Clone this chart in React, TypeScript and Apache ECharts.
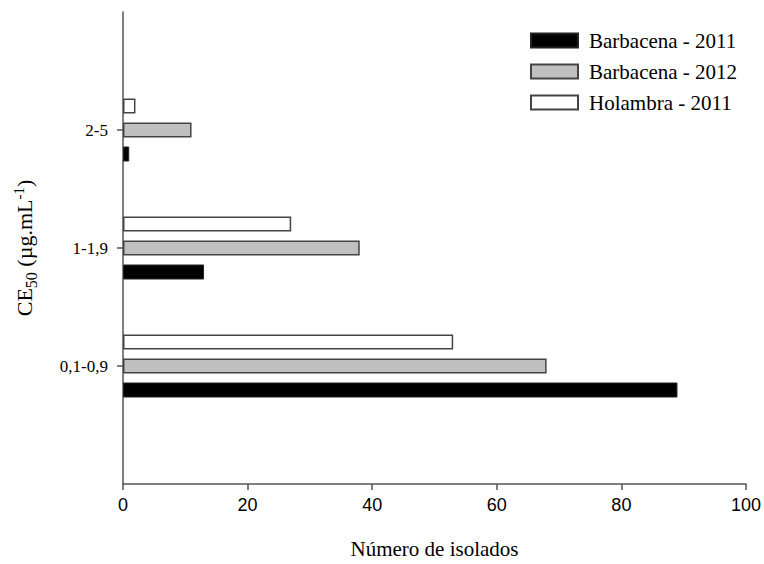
import React, { useEffect, useRef } from "react";
import * as echarts from "echarts";

// CE50 class intervals (bottom to top), padded with empty slots at both ends
const classes = ["", "0,1-0,9", "1-1,9", "2-5", ""];

// Number of isolates per CE50 class
const holambra2011 = [null, 53, 27, 2, null];
const barbacena2012 = [null, 68, 38, 11, null];
const barbacena2011 = [null, 89, 13, 1, null];

const xTicks = [0, 20, 40, 60, 80, 100];

const serif = "'Liberation Serif', 'Times New Roman', serif";
const narrow = "'Liberation Sans Narrow', 'Arial Narrow', 'Liberation Sans', sans-serif";

export default function App() {
  const ref = useRef<HTMLDivElement>(null);

  useEffect(() => {
    if (!ref.current) return;
    const chart = echarts.init(ref.current, null, { renderer: "svg" });
    const axisColor = "#555";

    chart.setOption({
      animation: false,
      backgroundColor: "#fff",
      grid: { left: 123, right: 17, top: 12, bottom: 78, containLabel: false },
      legend: {
        orient: "vertical",
        left: 525,
        top: 25,
        itemWidth: 47,
        itemHeight: 14,
        itemGap: 10,
        icon: "rect",
        data: ["Barbacena - 2011", "Barbacena - 2012", "Holambra - 2011"],
        textStyle: {
          fontFamily: serif,
          fontSize: 21,
          color: "#000",
          padding: [0, 0, 0, 6],
        },
      },
      xAxis: {
        type: "value",
        min: xTicks[0],
        max: xTicks[xTicks.length - 1],
        interval: 20,
        name: "Número de isolados",
        nameLocation: "middle",
        nameGap: 54,
        nameTextStyle: { fontFamily: serif, fontSize: 21, color: "#000" },
        splitLine: { show: false },
        axisLine: { show: true, lineStyle: { color: axisColor, width: 1.5 } },
        axisTick: { show: true, length: 6, lineStyle: { color: axisColor, width: 1.5 } },
        axisLabel: { fontFamily: narrow, fontSize: 18, color: "#000", margin: 12 },
      },
      yAxis: {
        type: "category",
        data: classes,
        boundaryGap: false,
        name: "{a|CE}{sub|50}{a| (µg.mL}{sup|-1}{a|)}",
        nameLocation: "middle",
        nameRotate: 90,
        nameGap: 84,
        nameTextStyle: {
          fontFamily: serif,
          color: "#000",
          rich: {
            a: { fontFamily: serif, fontSize: 22, color: "#000" },
            sub: { fontFamily: serif, fontSize: 16, color: "#000", padding: [13, 0, 0, 0] },
            sup: { fontFamily: serif, fontSize: 15, color: "#000", padding: [0, 0, 11, 0] },
          },
        },
        axisLine: { show: true, lineStyle: { color: axisColor, width: 1.5 } },
        axisTick: {
          show: true,
          length: 6,
          interval: (index: number) => index > 0 && index < classes.length - 1,
          lineStyle: { color: axisColor, width: 1.5 },
        },
        axisLabel: {
          interval: 0,
          fontFamily: serif,
          fontSize: 17,
          color: "#000",
          margin: 15,
        },
        splitLine: { show: false },
      },
      series: [
        {
          name: "Holambra - 2011",
          type: "bar",
          data: holambra2011,
          barWidth: 15,
          barGap: "60%",
          itemStyle: { color: "#ffffff", borderColor: "#444", borderWidth: 1.5 },
        },
        {
          name: "Barbacena - 2012",
          type: "bar",
          data: barbacena2012,
          barWidth: 15,
          barGap: "60%",
          itemStyle: { color: "#c0c0c0", borderColor: "#444", borderWidth: 1.5 },
        },
        {
          name: "Barbacena - 2011",
          type: "bar",
          data: barbacena2011,
          barWidth: 15,
          barGap: "60%",
          itemStyle: { color: "#000000", borderColor: "#222", borderWidth: 1 },
        },
      ],
    });

    return () => chart.dispose();
  }, []);

  return (
    <div
      ref={ref}
      style={{ position: "absolute", left: 0, top: 0, width: 764, height: 564 }}
    />
  );
}
